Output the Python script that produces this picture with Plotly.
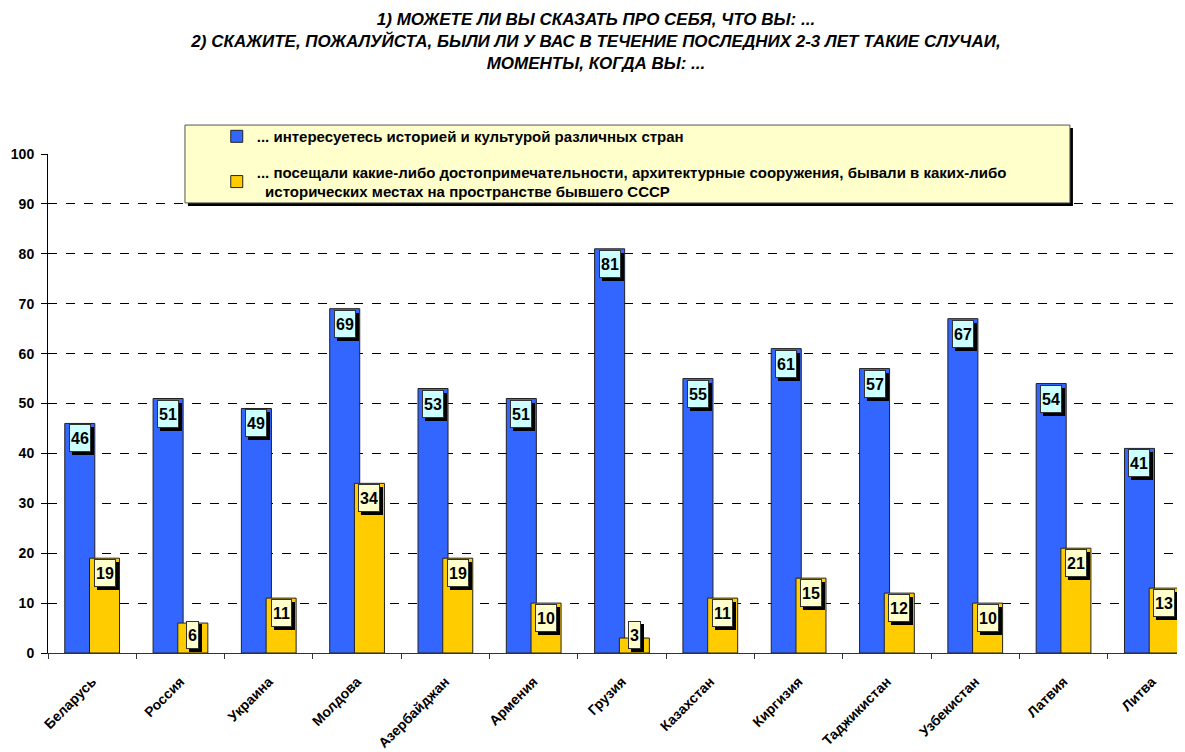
import plotly.graph_objects as go

countries = ["Беларусь", "Россия", "Украина", "Молдова", "Азербайджан", "Армения", "Грузия",
             "Казахстан", "Киргизия", "Таджикистан", "Узбекистан", "Латвия", "Литва"]
interested = [46, 51, 49, 69, 53, 51, 81, 55, 61, 57, 67, 54, 41]
visited = [19, 6, 11, 34, 19, 10, 3, 11, 15, 12, 10, 21, 13]

name_interested = "... интересуетесь историей и культурой различных стран"
name_visited = ("... посещали какие-либо достопримечательности, архитектурные сооружения, бывали в каких-либо"
                "<br>  исторических местах на пространстве бывшего СССР")

FONT = "Liberation Sans, Arial, sans-serif"
BLUE = "#3366FF"
YELLOW = "#FFCC00"

fig = go.Figure()
fig.add_trace(go.Bar(x=countries, y=interested, name=f"<b>{name_interested}</b>", legendgroup="a",
                     marker=dict(color=BLUE, line=dict(color="#222222", width=1)),
                     width=0.34, offset=-0.31, hoverinfo="y"))
fig.add_trace(go.Bar(x=countries, y=visited, name=f"<b>{name_visited}</b>", legendgroup="b",
                     marker=dict(color=YELLOW, line=dict(color="#222222", width=1)),
                     width=0.34, offset=-0.03, hoverinfo="y"))

# value labels: boxed with a drop shadow, sitting just inside the top of each bar
annotations = []
for series, dx, bg in ((interested, -0.14, "#CCFFFF"), (visited, 0.14, "#FFFFCC")):
    for i, v in enumerate(series):
        ly = max(v, 6.6)
        common = dict(x=i + dx, y=ly, xref="x", yref="y", yanchor="top", showarrow=False,
                      text=f"<b>{v}</b>", font=dict(family=FONT, size=16, color="black"),
                      height=24, borderpad=1, borderwidth=1)
        annotations.append(dict(common, xshift=3, yshift=-4, bgcolor="black", bordercolor="black"))
        annotations.append(dict(common, yshift=-1, bgcolor=bg, bordercolor="#333333"))

# legend box with shadow (paper coordinates of the plot area)
shapes = [
    dict(type="rect", xref="paper", yref="paper", x0=0.1219, x1=0.8928, y0=0.896, y1=1.052,
         fillcolor="black", line=dict(width=0), layer="above"),
    dict(type="rect", xref="paper", yref="paper", x0=0.1193, x1=0.8902, y0=0.902, y1=1.058,
         fillcolor="#FFFFCC", line=dict(color="#555555", width=1), layer="above"),
]

# the page body adds an 8px margin; the plot runs slightly past the right edge like the original
fig.update_layout(
    width=1191, height=744,
    paper_bgcolor="white", plot_bgcolor="white",
    margin=dict(l=40, r=3, t=146, b=99),
    barmode="overlay",
    font=dict(family=FONT, size=12, color="black"),
    title=dict(
        text="<b><i>1) МОЖЕТЕ ЛИ ВЫ СКАЗАТЬ ПРО СЕБЯ, ЧТО ВЫ: ...<br>"
             "2) СКАЖИТЕ, ПОЖАЛУЙСТА, БЫЛИ ЛИ У ВАС В ТЕЧЕНИЕ ПОСЛЕДНИХ 2-3 ЛЕТ ТАКИЕ СЛУЧАИ,<br>"
             "МОМЕНТЫ, КОГДА ВЫ: ...</i></b>",
        x=0.4937, xanchor="center", y=0.977, yanchor="top",
        font=dict(family=FONT, size=17, color="black"),
    ),
    legend=dict(x=0.147, y=1.068, xanchor="left", yanchor="top",
                bgcolor="rgba(0,0,0,0)", borderwidth=0,
                font=dict(family=FONT, size=15, color="black"),
                tracegroupgap=13, itemclick=False),
    xaxis=dict(type="category", tickson="boundaries", ticks="outside", ticklen=5,
               tickcolor="#333333", showline=True, linecolor="#333333", linewidth=1,
               tickangle=-45, tickfont=dict(family=FONT, size=14, color="black"),
               ticklabelstandoff=14, showgrid=False, automargin=False,
               tickvals=countries, ticktext=[f"<b>{c}</b>" for c in countries]),
    yaxis=dict(range=[0, 100], showline=True, linecolor="black", linewidth=1,
               ticks="outside", ticklen=6, tickcolor="black",
               showgrid=True, gridcolor="black", gridwidth=1, griddash="dash",
               tickfont=dict(family=FONT, size=14, color="black"), zeroline=False,
               automargin=False, ticklabelstandoff=4,
               tickvals=list(range(0, 101, 10)),
               ticktext=[f"<b>{t}</b>" for t in range(0, 101, 10)]),
    annotations=annotations,
    shapes=shapes,
    showlegend=True,
)

fig.write_html("out.html")
